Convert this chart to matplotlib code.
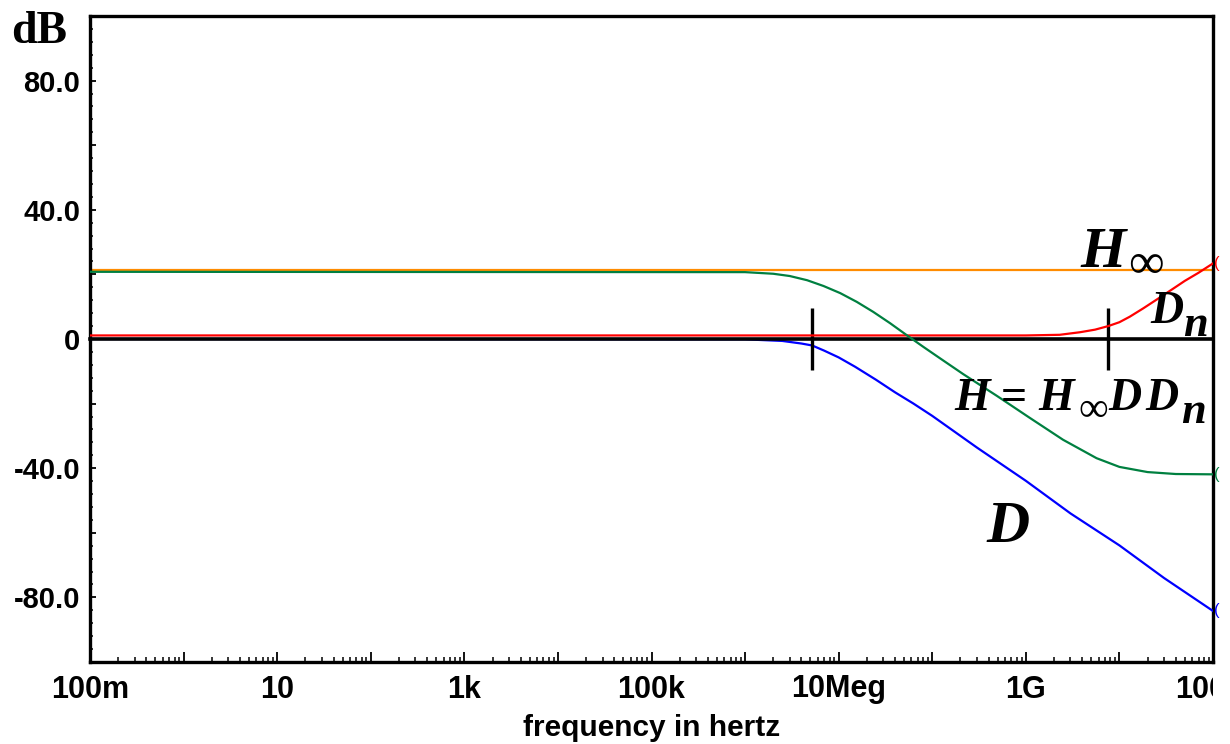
import matplotlib
matplotlib.use('Agg')
import matplotlib.pyplot as plt
from matplotlib.ticker import FixedLocator, FixedFormatter, MultipleLocator, LogLocator, NullFormatter
from matplotlib.transforms import Bbox, TransformedBbox

# values (frequency in Hz, gain in dB)
hinf_f = [1e-1, 1e11]
hinf_db = [21.5, 21.5]

h_f = [1e-1, 1e6, 2e6, 3e6, 4.6e6, 6.9e6, 1.04e7, 1.56e7, 2.34e7, 3.54e7, 5.33e7,
       8e7, 1.2e8, 2.15e8, 4.9e8, 1.1e9, 2.5e9, 5.7e9, 1e10, 2e10, 4e10, 1e11]
h_db = [20.8, 20.7, 20.2, 19.5, 18.2, 16.4, 14.2, 11.5, 8.4, 4.9, 1.2,
        -2.4, -5.9, -10.9, -17.6, -24.4, -31.2, -36.9, -39.6, -41.2, -41.8, -41.9]

d_f = [1e-1, 1e6, 2.5e6, 4e6, 5.2e6, 7e6, 1e7, 1.5e7, 2.5e7, 4e7, 6.3e7,
       1e8, 3e8, 1e9, 3e9, 1e10, 3e10, 1e11]
d_db = [0.0, -0.1, -0.6, -1.4, -2.0, -3.6, -5.7, -8.6, -12.6, -16.5, -20.0,
        -23.8, -33.6, -43.9, -54.0, -63.9, -74.0, -84.2]

dn_f = [1e-1, 1e9, 2.3e9, 3.8e9, 5.5e9, 7.6e9, 1e10, 1.29e10, 1.8e10, 2.5e10,
        3.5e10, 5e10, 7e10, 1e11]
dn_db = [1.1, 1.1, 1.3, 2.1, 2.9, 4.0, 5.2, 6.9, 9.5, 12.2, 15.0, 18.0, 20.5, 23.4]

zero_f = [1e-1, 1e11]
zero_db = [0, 0]
corner_f = [5.2e6, 7.6e9]
corner_half = 9.5

x_ticks = [1e-1, 1e0, 1e1, 1e2, 1e3, 1e4, 1e5, 1e6, 1e7, 1e8, 1e9, 1e10, 1e11]
x_labels = ['100m', '', '10', '', '1k', '', '100k', '', '10Meg', '', '1G', '', '100G']
y_ticks = [-80, -60, -40, -20, 0, 20, 40, 60, 80]
y_labels = ['-80.0', '', '-40.0', '', '0', '', '40.0', '', '80.0']

plt.rcParams['font.family'] = ['Liberation Sans', 'DejaVu Sans']
plt.rcParams['font.weight'] = 'bold'
serif = ['Liberation Serif', 'DejaVu Serif']

W, H = 1230, 744
fig = plt.figure(figsize=(W / 100, H / 100), dpi=100)
ax = fig.add_axes([90 / W, 1 - 662 / H, (1213 - 90) / W, (662 - 16) / H])
ax.set_xscale('log')
ax.set_xlim(1e-1, 1e11)
ax.set_ylim(-100, 100)

ax.plot(hinf_f, hinf_db, color='#ff8c00', lw=1.6, zorder=2)
ax.plot(d_f, d_db, color='#0000ff', lw=1.6, zorder=3)
ax.plot(zero_f, zero_db, color='black', lw=2.6, zorder=4, clip_on=False)
ax.vlines(corner_f, -corner_half, corner_half, color='black', lw=2.4, zorder=4)
ax.plot(dn_f, dn_db, color='#ff0000', lw=1.6, zorder=5)
ax.plot(h_f, h_db, color='#008040', lw=1.6, zorder=6)

# little end-of-trace marks just right of the frame
for fx, gy, c in [(dn_f, dn_db, '#ff0000'), (h_f, h_db, '#008040'), (d_f, d_db, '#0000ff')]:
    ax.annotate('(', xy=(fx[-1], gy[-1]), xytext=(1, 0), textcoords='offset points',
                ha='left', va='center', color=c, fontsize=12, fontweight='normal',
                annotation_clip=False)


def piece(x, y, s, size, style='italic', weight='bold'):
    # x, y in picture pixels from top-left, y is the baseline
    fig.text(x / W, 1 - y / H, s, family=serif, style=style, weight=weight,
             fontsize=size, ha='left', va='baseline')


piece(1080, 267, 'H', 42)
piece(1128, 278, '\u221e', 36, 'normal', 'normal')

piece(1150, 323, 'D', 33)
piece(1183, 336, 'n', 32)

piece(954, 410, 'H', 33)
piece(1001, 410, '=', 33, 'normal')
piece(1038, 410, 'H', 33)
piece(1078, 421, '\u221e', 30, 'normal', 'normal')
piece(1108, 410, 'D', 33)
piece(1145, 410, 'D', 33)
piece(1181, 423, 'n', 32)

piece(986, 542, 'D', 43)

ax.xaxis.set_major_locator(FixedLocator(x_ticks))
ax.xaxis.set_major_formatter(FixedFormatter(x_labels))
ax.xaxis.set_minor_locator(LogLocator(base=10, subs=[2, 3, 4, 5, 6, 7, 8, 9], numticks=40))
ax.xaxis.set_minor_formatter(NullFormatter())
ax.yaxis.set_major_locator(FixedLocator(y_ticks))
ax.yaxis.set_major_formatter(FixedFormatter(y_labels))
ax.yaxis.set_minor_locator(MultipleLocator(4))

ax.tick_params(axis='x', which='major', direction='in', length=7, width=1.3,
               labelsize=22, pad=9, top=False)
ax.tick_params(axis='x', which='minor', direction='in', length=3.5, width=1.1, top=False)
ax.tick_params(axis='y', which='major', direction='in', length=4.5, width=1.3,
               labelsize=21, pad=7, right=False)
ax.tick_params(axis='y', which='minor', direction='in', length=2.5, width=1.1, right=False)

for s in ax.spines.values():
    s.set_linewidth(2.4)

ax.set_xlabel('frequency in hertz', fontsize=21.5, fontweight='bold', labelpad=7)
fig.text(11 / W, 1 - 43 / H, 'dB', family=serif, fontweight='bold', fontsize=33,
         ha='left', va='baseline')

# last tick label is cut off at the right frame
fig.canvas.draw()
last = ax.xaxis.get_major_ticks()[-1].label1
last.set_clip_on(True)
last.set_clip_box(TransformedBbox(Bbox([[-1, -1], [1, 2]]), ax.transAxes))

fig.savefig('out.png', dpi=100)
